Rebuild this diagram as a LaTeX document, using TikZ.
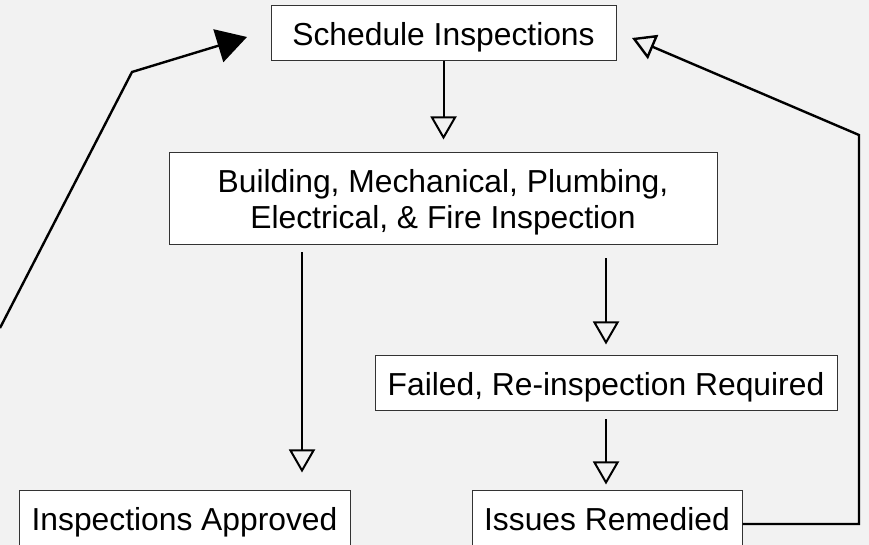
\documentclass[tikz,border=0pt]{standalone}
\usepackage{fontspec}
\setmainfont{Liberation Sans}
\usetikzlibrary{arrows.meta,positioning}

\definecolor{bggray}{HTML}{F2F2F2}
\definecolor{edgegray}{HTML}{333333}

\tikzset{
  box/.style={draw=edgegray, fill=white, line width=0.5pt, inner sep=0pt,
    minimum height=27.5pt, align=center, text depth=0pt,
    font=\fontsize{15.9pt}{18pt}\selectfont},
  flow/.style={line width=1pt, -{Triangle[open, length=11.5pt, width=13pt]}},
  backline/.style={line width=1.2pt},
}

\begin{document}
\begin{tikzpicture}[x=0.5pt, y=-0.5pt]
  \fill[bggray] (0,0) rectangle (869,545);
  \useasboundingbox (0,0) rectangle (869,545);

  % steps
  \node[box, minimum width=172.5pt] (sched) at (443.5,33.5) {Schedule Inspections};
  \node[box, minimum width=274pt, minimum height=46pt] (build) at (443,199)
    {Building, Mechanical, Plumbing,\\Electrical, \& Fire Inspection};
  \node[box, minimum width=231pt] (fail) at (606,383.5) {Failed, Re-inspection Required};
  \node[box, minimum width=165.5pt] (appr) at (184.5,518.5) {Inspections Approved};
  \node[box, minimum width=135pt] (iss) at (607,518.5) {Issues Remedied};

  % main flow
  \draw[flow, shorten >=6.5pt] (sched.south) -- (sched.south |- build.north);
  \draw[flow, shorten <=3.5pt, shorten >=9pt] ([xshift=-70.5pt]build.south)
    -- ([xshift=-70.5pt]build.south |- appr.north);
  \draw[flow, shorten <=6.5pt, shorten >=5.5pt] (build.south -| fail.north) -- (fail.north);
  \draw[flow, shorten <=4pt, shorten >=3pt] (fail.south) -- (fail.south |- iss.north);

  % loops back to the top
  \coordinate (rbend) at (859,135);
  \coordinate (rtip) at (632,38);
  \draw[backline, -{Triangle[open, length=11.5pt, width=13pt]}]
    ([yshift=-2.75pt]iss.east) -| (rbend) -- (rtip);

  \coordinate (lfree) at (0,328);
  \coordinate (lbend) at (132,72);
  \coordinate (ltip) at (247,37);
  \draw[backline, -{Triangle[length=15pt, width=17pt]}] (lfree) -- (lbend) -- (ltip);
\end{tikzpicture}
\end{document}
